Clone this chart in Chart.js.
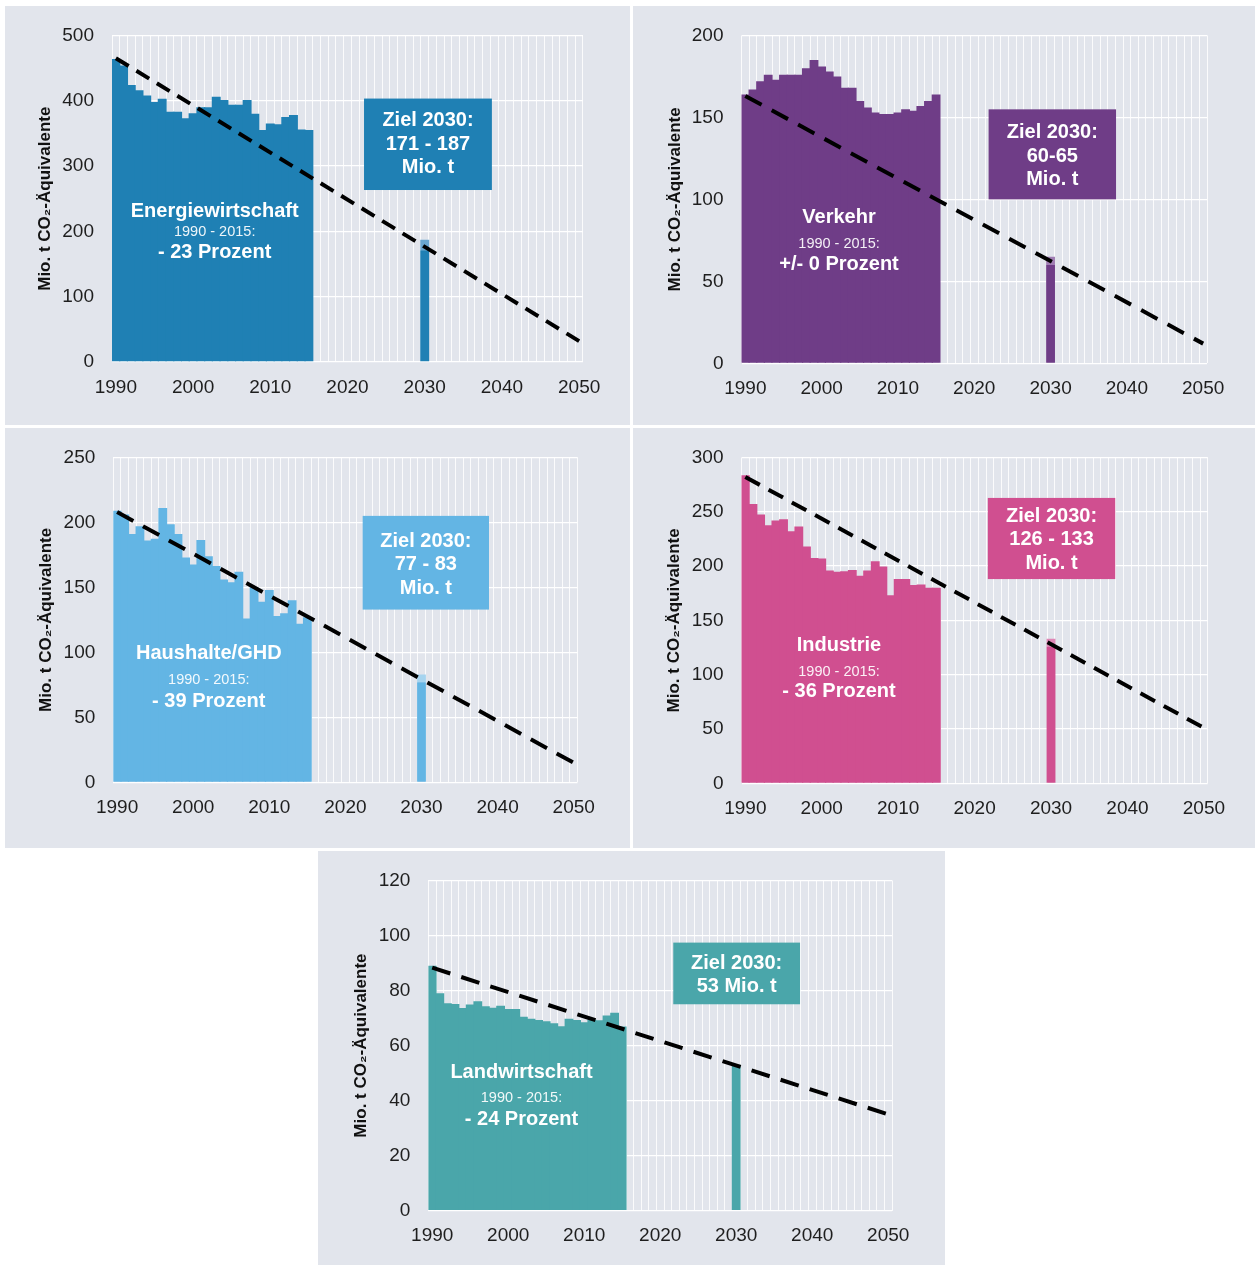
<!DOCTYPE html>
<html><head><meta charset="utf-8">
<script src="https://cdn.jsdelivr.net/npm/chart.js@4.4.1/dist/chart.umd.min.js"></script>
<style>
html,body{margin:0;padding:0;background:#fff;}
body{width:1255px;height:1265px;position:relative;overflow:hidden;}
.panel{position:absolute;background:#e2e5ec;}
.panel canvas{position:absolute;left:0;top:0;}
</style></head><body>
<div class="panel" style="left:5px;top:6px;width:625px;height:419px"><canvas id="c1" width="625" height="419"></canvas></div>
<div class="panel" style="left:633px;top:6px;width:622px;height:419px"><canvas id="c2" width="622" height="419"></canvas></div>
<div class="panel" style="left:5px;top:428px;width:625px;height:420px"><canvas id="c3" width="625" height="420"></canvas></div>
<div class="panel" style="left:633px;top:428px;width:622px;height:420px"><canvas id="c4" width="622" height="420"></canvas></div>
<div class="panel" style="left:318px;top:851px;width:627px;height:414px"><canvas id="c5" width="627" height="414"></canvas></div>
<script>
// ---------- DATA ----------
const categories = Array.from({length: 61}, (_, i) => String(1990 + i)); // 1990 ... 2050
const tickYears = ['1990', '2000', '2010', '2020', '2030', '2040', '2050'];
const targetYear = '2030';
const trendYears = ['1990', '2050'];
const periodText = '1990 - 2015:';
const yTitle = 'Mio. t CO₂-Äquivalente';

const energieHist = [464, 454, 424, 416, 408, 398, 403, 383, 383, 373, 381, 390, 390, 406, 401, 394, 394, 401, 380, 355, 365, 364, 375, 378, 356, 355];
const energieTarget = [171, 187];
const energieTrend = [465, 32];

const verkehrHist = [164, 167, 172, 176, 173, 176, 176, 176, 180, 185, 181, 178, 175, 168, 168, 160, 156, 153, 152, 152, 153, 155, 154, 157, 160, 164];
const verkehrTarget = [60, 65];
const verkehrTrend = [163, 12];

const haushalteHist = [209, 206, 191, 197, 186, 187.5, 211, 198.5, 191, 173, 167.5, 186.5, 174, 166.5, 156, 154, 162, 126, 150, 139, 148, 128, 130, 140, 122, 127];
const haushalteTarget = [77, 83];
const haushalteTrend = [208, 15];

const industrieHist = [283.5, 257, 247.5, 237.5, 242, 243, 232, 236.5, 218, 207.5, 207, 196, 194.7, 195.3, 196.4, 191, 196, 204.5, 199.5, 173, 188, 188, 182.5, 183, 180, 180];
const industrieTarget = [126, 133];
const industrieTrend = [282, 51];

const landwHist = [89, 79, 75.4, 75.1, 73.6, 74.9, 76.1, 74.3, 73.7, 74.5, 73.3, 73.3, 70.5, 69.7, 69.3, 68.8, 68.1, 67, 69.7, 69.3, 68.5, 69.5, 69.2, 70.9, 71.9, 66.9];
const landwTarget = [53, 53];
const landwTrend = [88.3, 35];

// ---------- RENDERING ----------
const FONT = "'Liberation Sans', Arial, Helvetica, sans-serif";
Chart.defaults.font.family = FONT;

const annotPlugin = {
  id: 'annot',
  afterDatasetsDraw(chart, args, o) {
    const ctx = chart.ctx;
    const xs = chart.scales.xl, ys = chart.scales.y;
    const x0 = xs.getPixelForValue(o.box[0]), x1 = xs.getPixelForValue(o.box[1]);
    const yb = ys.getPixelForValue(o.box[2]), yt = ys.getPixelForValue(o.box[3]);
    ctx.save();
    ctx.fillStyle = o.color;
    ctx.fillRect(x0, yt, x1 - x0, yb - yt);
    ctx.fillStyle = '#ffffff';
    ctx.textAlign = 'center';
    ctx.textBaseline = 'middle';
    ctx.font = 'bold 20px ' + FONT;
    const cx = (x0 + x1) / 2, cy = (yt + yb) / 2 + o.boxShift;
    const n = o.boxLines.length;
    o.boxLines.forEach((t, i) => ctx.fillText(t, cx, cy + (i - (n - 1) / 2) * 23.5));
    const lx = xs.getPixelForValue(o.labelAt[0]), ly = ys.getPixelForValue(o.labelAt[1]);
    ctx.font = 'bold 20px ' + FONT;
    ctx.fillText(o.name, lx, ly);
    ctx.font = '14.5px ' + FONT;
    ctx.fillStyle = 'rgba(255,255,255,0.92)';
    ctx.fillText(periodText, lx, ly + o.gaps[0]);
    ctx.fillStyle = '#ffffff';
    ctx.font = 'bold 20px ' + FONT;
    ctx.fillText(o.change, lx, ly + o.gaps[1]);
    ctx.restore();
  }
};

function makeChart(id, c) {
  const canvas = document.getElementById(id);
  const plotW = canvas.width - c.yw - c.pad[1];
  const thick = plotW / categories.length + 1.2;   // full category width plus a small overlap
  const main = categories.map((cat, i) => i < c.hist.length ? c.hist[i] : (cat === targetYear ? c.target[0] : null));
  const range = categories.map(cat => (cat === targetYear && c.target[1] > c.target[0]) ? c.target[1] - c.target[0] : null);
  const trend = categories.map(cat => { const k = trendYears.indexOf(cat); return k >= 0 ? c.trend[k] : null; });
  const barOpts = { borderWidth: 0, barPercentage: 1, categoryPercentage: 1, barThickness: thick, inflateAmount: 0 };
  const datasets = [
    { type: 'line', xAxisID: 'x', yAxisID: 'y', order: 0, data: trend, spanGaps: true,
      borderColor: '#000', borderWidth: 4, borderDash: c.dash, pointRadius: 0, fill: false, tension: 0 },
    Object.assign({ type: 'bar', xAxisID: 'x', yAxisID: 'y', order: 1, stack: 'a', data: main,
      backgroundColor: c.color }, barOpts),
    Object.assign({ type: 'bar', xAxisID: 'x', yAxisID: 'y', order: 1, stack: 'a', data: range,
      backgroundColor: c.light }, barOpts)
  ];
  return new Chart(canvas, {
    type: 'bar',
    data: { labels: categories, datasets },
    plugins: [annotPlugin],
    options: {
      responsive: false, animation: false, devicePixelRatio: 1,
      datasets: { bar: barOpts },
      layout: { padding: { top: c.pad[0], right: c.pad[1], bottom: 0, left: 0 } },
      plugins: {
        legend: { display: false }, tooltip: { enabled: false },
        annot: { color: c.color, box: c.box, boxShift: c.boxShift, boxLines: c.boxLines,
                 labelAt: c.labelAt, gaps: c.gaps, name: c.name, change: c.change }
      },
      scales: {
        x: {
          type: 'category', offset: true,
          grid: { offset: true, color: 'rgba(255,255,255,0.85)', lineWidth: 1, drawTicks: false },
          border: { display: false },
          ticks: { autoSkip: false, maxRotation: 0, minRotation: 0, padding: 14, color: '#1e1e1e',
                   font: { size: 19 },
                   callback(v) { const l = this.getLabelForValue(v); return tickYears.includes(l) ? l : ''; } },
          afterFit(s) { s.height = c.xh; }
        },
        xl: { type: 'linear', display: false, offset: false, bounds: 'ticks', min: 1990, max: 2051,
              grid: { offset: false }, ticks: { display: false } },
        y: {
          min: 0, max: c.ymax,
          grid: { color: '#ffffff', lineWidth: 1.3, drawTicks: false },
          border: { display: false },
          ticks: { stepSize: c.step, padding: 18, color: '#1e1e1e', font: { size: 19 } },
          title: { display: true, text: yTitle, color: '#111', font: { size: 17, weight: 'bold' },
                   padding: { top: c.titleOff, bottom: 0 } },
          afterFit(s) { s.width = c.yw; }
        }
      }
    }
  });
}

makeChart('c1', { hist: energieHist, target: energieTarget, trend: energieTrend,
  color: '#1f80b4', light: '#6aa6cf', dash: [15, 9],
  pad: [27.5, 47], yw: 107, xh: 63, ymax: 500, step: 100, titleOff: 30,
  box: [2022.64, 2039.2, 263.3, 403.3], boxShift: 0, boxLines: ['Ziel 2030:', '171 - 187', 'Mio. t'],
  labelAt: [2003.3, 229.8], gaps: [20, 40.5], name: 'Energiewirtschaft', change: '- 23 Prozent' });

makeChart('c2', { hist: verkehrHist, target: verkehrTarget, trend: verkehrTrend,
  color: '#6f3d87', light: '#a07db3', dash: [18.5, 11.5],
  pad: [29.3, 48], yw: 108.5, xh: 61.7, ymax: 200, step: 50, titleOff: 32,
  box: [2022.38, 2039.08, 100, 154.9], boxShift: 2, boxLines: ['Ziel 2030:', '60-65', 'Mio. t'],
  labelAt: [2002.78, 89.2], gaps: [26.7, 47], name: 'Verkehr', change: '+/- 0 Prozent' });

makeChart('c3', { hist: haushalteHist, target: haushalteTarget, trend: haushalteTrend,
  color: '#63b5e4', light: '#a6d4ef', dash: [18.5, 11],
  pad: [28.3, 52.5], yw: 108.3, xh: 65.7, ymax: 250, step: 50, titleOff: 31,
  box: [2022.77, 2039.37, 132.9, 205], boxShift: 2, boxLines: ['Ziel 2030:', '77 - 83', 'Mio. t'],
  labelAt: [2002.55, 98.9], gaps: [26.7, 47.5], name: 'Haushalte/GHD', change: '- 39 Prozent' });

makeChart('c4', { hist: industrieHist, target: industrieTarget, trend: industrieTrend,
  color: '#d04f90', light: '#df86b5', dash: [16.5, 10],
  pad: [29.3, 47.3], yw: 108.5, xh: 64.7, ymax: 300, step: 50, titleOff: 31.5,
  box: [2022.23, 2038.9, 188, 262.7], boxShift: 1, boxLines: ['Ziel 2030:', '126 - 133', 'Mio. t'],
  labelAt: [2002.76, 127.2], gaps: [26.7, 46.8], name: 'Industrie', change: '- 36 Prozent' });

makeChart('c5', { hist: landwHist, target: landwTarget, trend: landwTrend,
  color: '#4aa6aa', light: '#8ac6c9', dash: [19, 11.5],
  pad: [28.5, 53], yw: 110.4, xh: 54.3, ymax: 120, step: 20, titleOff: 33,
  box: [2022.22, 2038.9, 75, 97.4], boxShift: 1.4, boxLines: ['Ziel 2030:', '53 Mio. t'],
  labelAt: [2002.25, 50.3], gaps: [26.2, 47], name: 'Landwirtschaft', change: '- 24 Prozent' });
</script>
</body></html>
